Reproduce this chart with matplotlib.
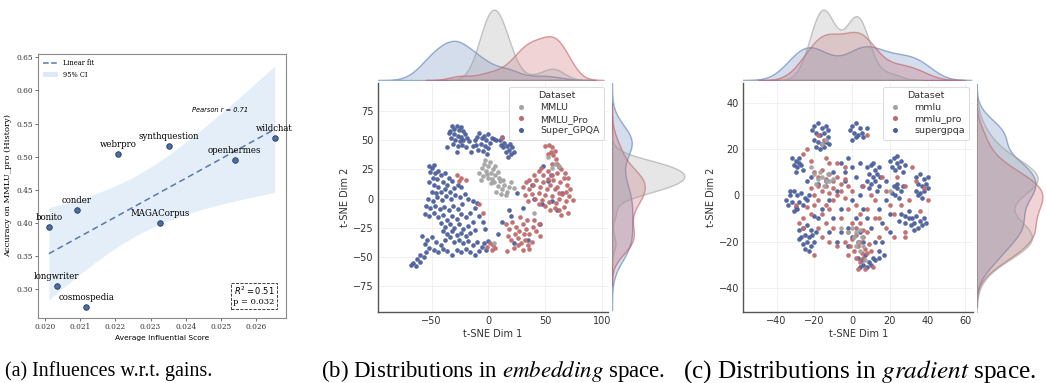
import numpy as np
import matplotlib
matplotlib.use("Agg")
import matplotlib.pyplot as plt
import seaborn as sns
from matplotlib.colors import to_rgba
from matplotlib.lines import Line2D
from matplotlib.patches import Patch

# ---------------- panel (a) data ----------------
names = ["bonito", "conder", "longwriter", "cosmospedia", "webrpro",
         "synthquestion", "MAGACorpus", "openhermes", "wildchat"]
infl_score = [0.02011, 0.02091, 0.02034, 0.02117, 0.02207,
              0.02352, 0.02327, 0.02539, 0.02653]
accuracy = [0.394, 0.420, 0.305, 0.274, 0.504, 0.517, 0.400, 0.495, 0.528]

# ---------------- panel (b) embedding t-SNE ----------------
emb_mmlu = [(-8, 22), (-6, 26), (-4, 30), (-2, 24), (0, 28), (2, 22), (4, 25), (-5, 19),
            (0, 18), (3, 17), (6, 20), (8, 23), (5, 14), (8, 11), (10, 15), (12, 8),
            (14, 12), (16, 6), (18, 10), (20, 14), (22, 9), (11, 4), (-3, 33), (1, 31),
            (-7, 16), (6, 28), (9, 18), (13, 16), (15, 3), (2, 13), (-1, 21), (7, 6),
            (52, 36), (58, 30), (62, 28), (40, -12), (5, -38), (56, 26)]
emb_pro = [(50, 45), (53, 46), (56, 44), (58, 41), (55, 40), (57, 37), (59, 34), (52, 38),
           (60, 30), (62, 27), (56, 30),
           (30, 10), (33, 14), (36, 8), (39, 12), (42, 16), (45, 10), (48, 14), (51, 8),
           (54, 12), (57, 16), (60, 10), (63, 14), (66, 18), (69, 12), (72, 8), (32, 3),
           (35, -2), (38, 4), (41, 0), (44, 5), (47, -1), (50, 3), (53, -3), (56, 2),
           (59, -4), (62, 0), (65, 4), (68, -2), (71, 2), (74, -1), (40, 20), (44, 24),
           (48, 20), (52, 24), (56, 20), (60, 22), (64, 25), (67, 22), (70, 18), (58, -8),
           (62, -10), (66, -7), (70, -12), (54, -10), (50, -6), (64, -14), (46, 26), (62, 5),
           (58, 8), (52, 17), (44, -5), (36, 16), (68, 6),
           (15, -22), (18, -26), (21, -20), (24, -24), (27, -28), (30, -22), (33, -26),
           (36, -30), (39, -24), (42, -28), (45, -32), (17, -32), (20, -35), (23, -30),
           (26, -34), (29, -38), (32, -35), (35, -40), (38, -37), (30, -44), (26, -40),
           (22, -42), (40, -18), (34, -18), (28, -16), (44, -22), (36, -43), (31, -30),
           (-28, 20), (-24, 18), (-20, 16), (-26, 15), (-8, -5), (-5, -12), (1, -38),
           (4, -40), (6, -42), (3, -44), (-1, -41), (12, 52), (16, -45)]
emb_gpqa = [(-34, 58), (-32, 62), (-30, 60), (-28, 62), (-26, 59), (-24, 61), (-22, 58),
            (-30, 55), (-27, 54), (-24, 53), (-21, 55), (-33, 52), (-29, 50), (-25, 49),
            (-22, 50), (-19, 52), (-35, 56), (-31, 47), (-27, 45), (-23, 46), (-20, 44),
            (-17, 49), (-36, 44), (-28, 40), (-14, 45), (-12, 50), (-10, 53), (-8, 56),
            (-6, 52), (-4, 54), (-2, 50), (0, 55), (-11, 46), (-7, 47), (-3, 45), (1, 48),
            (3, 52), (5, 51), (-9, 42), (-5, 41), (0, 43), (-1, 38), (7, 50), (-15, 40),
            (10, 50), (12, 53), (14, 48), (16, 45), (13, 44), (18, 42), (15, 40), (20, 38),
            (17, 36), (11, 46), (19, 47), (21, 44), (22, 40),
            (-52, 28), (-50, 26), (-48, 29), (-51, 23), (-47, 22), (-44, 24), (-49, 18),
            (-45, 17), (-42, 20), (-38, 22), (-35, 18), (-52, 14), (-48, 12), (-44, 10),
            (-40, 14), (-36, 12), (-32, 15), (-50, 6), (-46, 5), (-42, 6), (-38, 8),
            (-34, 6), (-30, 9), (-27, 12), (-24, 10), (-53, 0), (-49, -2), (-45, 1),
            (-41, -1), (-37, 2), (-33, 0), (-29, 3), (-25, 1), (-21, 4), (-18, 0),
            (-14, -2), (-10, -4), (-12, -8),
            (-55, -6), (-51, -8), (-47, -6), (-43, -9), (-39, -7), (-35, -10), (-31, -6),
            (-27, -9), (-23, -5), (-56, -13), (-52, -15), (-48, -12), (-44, -16), (-40, -14),
            (-36, -18), (-32, -15), (-28, -17), (-24, -13), (-20, -16), (-16, -12), (-8, -15),
            (-5, -20), (-3, -26),
            (-42, -21), (-38, -24), (-34, -22), (-30, -25), (-26, -22), (-22, -26), (-18, -23),
            (-14, -20), (-40, -28), (-36, -30), (-32, -28), (-28, -31), (-24, -29), (-20, -32),
            (-16, -29), (-12, -27), (-38, -35), (-34, -33), (-30, -37), (-26, -35), (-22, -38),
            (-18, -36), (-14, -40), (-10, -37), (-6, -41), (-2, -44), (-4, -38), (0, -36),
            (-58, -32), (-54, -35), (-50, -33), (-46, -37), (-42, -40), (-56, -39), (-52, -42),
            (-48, -44), (-44, -46), (-40, -43), (-36, -45), (-32, -48), (-28, -44), (-24, -46),
            (-20, -43), (-16, -46), (-12, -48), (-8, -45),
            (-60, -48), (-63, -52), (-66, -55), (-68, -57), (-64, -58), (-60, -54), (-57, -50),
            (-55, -46),
            (25, 5), (30, -8), (40, 0), (47, -5), (38, 12), (55, 20), (60, -10), (20, -15),
            (12, -20), (8, -30), (22, -38), (35, -35), (45, -22), (52, 15), (65, 5), (18, -10),
            (48, 28), (56, -2)]

# ---------------- panel (c) gradient t-SNE ----------------
grad_mmlu = [(-20, 9), (-18, 7), (-16, 8), (-14, 6), (-17, 10), (-15, 4), (-19, 5), (-13, 9),
             (0, -14), (2, -16), (4, -15), (1, -18), (3, -20), (5, -18), (6, -22), (2, -22),
             (-16, 22), (-14, 24), (-2, -16), (7, -28), (-22, 12), (-10, 7), (20, 2),
             (-6, -14), (4, -24), (-12, 6)]
grad_pro = [(-20, 10), (-18, 8), (-16, 11), (-14, 7), (-12, 9), (-10, 6), (-8, 8), (-6, 5),
            (-4, 7), (-18, 4), (-16, 2), (-14, 4), (-12, 1), (-10, 3), (-8, 0), (-6, 2),
            (-4, -1), (-20, 0), (-22, 3), (-24, -5), (-22, -8), (-20, -4), (-18, -2),
            (-16, -8), (-14, -4), (-12, -6), (-10, -2), (-26, -10), (-28, -12), (-18, -14),
            (-14, -12), (-10, -14), (-6, -10), (-2, 4), (0, 2), (2, -4), (4, -8), (-2, -6),
            (-22, 15), (-8, 14), (-12, 14), (-4, 12), (-24, 20), (-18, 26), (-15, 24),
            (-20, -26), (-16, -18),
            (0, -12), (2, -14), (4, -12), (6, -15), (-2, -16), (0, -19), (2, -17), (4, -20),
            (6, -18), (8, -16), (-1, -22), (1, -24), (3, -22), (5, -25), (7, -23), (9, -21),
            (2, -27), (4, -29), (6, -27), (8, -25), (10, -24), (3, -32), (7, -32), (11, -31),
            (-4, -20), (-2, -26),
            (8, -6), (12, -2), (14, -10), (18, -14), (22, -8), (26, -4), (28, -16), (18, 2),
            (24, 8), (30, -2), (34, 6), (38, 3), (40, -2), (32, 12), (22, -18), (16, 8),
            (20, -4), (14, -18), (10, 0), (6, 4), (36, -7), (12, -10), (28, 4), (-8, -22),
            (-12, -20), (-26, -14), (-30, -4), (8, 26), (-14, 16), (-26, 18), (28, -18)]
grad_gpqa = [(-20, 30), (-18, 31), (-16, 29), (-14, 30), (-19, 27), (-17, 26), (-15, 27),
             (-13, 25), (-20, 24), (-18, 23), (-16, 22), (-14, 23), (-12, 22), (-17, 20),
             (-15, 21), (-19, 21), (-13, 28), (-21, 28),
             (0, 30), (2, 31), (4, 29), (1, 27), (3, 26), (-1, 28), (5, 27), (2, 25), (0, 24),
             (6, 25), (8, 29),
             (-32, 16), (-30, 15), (-28, 16), (-31, 13), (-29, 12), (-27, 13), (-26, 11),
             (-30, 10), (-28, 14),
             (-35, -2), (-33, 0), (-31, 2), (-29, 0), (-27, 1), (-25, -1), (-34, -4), (-32, -3),
             (-30, -5), (-28, -3), (-26, -4), (-24, -2), (-31, -7), (-29, -6), (-33, 2), (-23, 0),
             (-28, -15), (-26, -14), (-24, -13), (-22, -15), (-27, -18), (-25, -17), (-23, -18),
             (-21, -17), (-26, -21), (-24, -20), (-22, -22), (-20, -20), (-25, -23), (-23, -24),
             (-28, -19), (-19, -16),
             (8, 12), (10, 13), (12, 11), (14, 12), (9, 9), (11, 8), (13, 9), (15, 8), (8, 6),
             (10, 5), (12, 6), (14, 4), (11, 14), (9, 3), (13, 2),
             (20, 15), (22, 16), (24, 14), (26, 15), (21, 12), (23, 11), (25, 12), (27, 10),
             (24, 17), (28, 13),
             (22, 4), (24, 3), (26, 2), (23, 0), (25, -1), (21, 1), (27, 4), (24, 5),
             (34, 8), (36, 9), (38, 7), (40, 8), (35, 5), (37, 4), (39, 5), (34, 2), (36, 1),
             (38, 2), (40, 3), (37, -1), (35, 0),
             (26, -8), (28, -9), (30, -7), (32, -10), (34, -9), (36, -11), (38, -10), (28, -12),
             (31, -13), (33, -12), (35, -14), (37, -13), (30, -10), (25, -11), (39, -12),
             (33, -15),
             (3, -27), (5, -28), (7, -26), (9, -29), (11, -27), (4, -31), (6, -30), (8, -31),
             (10, -30), (12, -28), (14, -27),
             (-22, 8), (-18, 5), (-10, 10), (-6, 14), (-2, 16), (0, 12), (2, 8), (4, 14),
             (-4, 6), (-8, 2), (-12, -2), (-16, -6), (-20, -9), (-10, -10), (-6, -6), (0, -2),
             (4, 0), (6, -6), (2, -10), (-2, -14), (0, -18), (4, -16), (6, -20), (10, -14),
             (14, -6), (16, -12), (18, -2), (20, -8), (-14, 6), (-6, -16), (-12, -16),
             (16, -20), (12, -20), (14, -24), (17, -26), (-4, 10), (5, 4), (-24, 6), (-8, -20),
             (20, -16), (18, 6), (-18, -10), (8, -10), (-2, -22), (3, -20)]

# scatter / marginal colours: gray, red, blue
pt_colors = ["#a3a3a3", "#be6b6d", "#4b5f9b"]
kde_colors = ["#999999", "#C44E52", "#4C72B0"]

fig = plt.figure(figsize=(10.46, 3.83), dpi=100)

# ======================= panel (a) =======================
ax = fig.add_axes([0.0363, 0.170, 0.2371, 0.689])
xa = np.array(infl_score)
ya = np.array(accuracy)
n = len(xa)
slope, icpt = np.polyfit(xa, ya, 1)
xs = np.linspace(xa.min(), xa.max(), 100)
fit = slope * xs + icpt
resid = ya - (slope * xa + icpt)
s = np.sqrt(np.sum(resid ** 2) / (n - 2))
sxx = np.sum((xa - xa.mean()) ** 2)
se = s * np.sqrt(1 / n + (xs - xa.mean()) ** 2 / sxx)
ax.fill_between(xs, fit - 1.96 * se, fit + 1.96 * se, color="#dce9f8", alpha=0.75, lw=0)
ax.plot(xs, fit, ls="--", color="#5a78ab", lw=1.1, dashes=(4, 2.5))
ax.scatter(xa, ya, s=16, color="#4c6ea3", edgecolor="#26385a", lw=0.6, zorder=3)
for nm, x, y in zip(names, xa, ya):
    ax.annotate(nm, (x, y), xytext=(0, 3.5), textcoords="offset points",
                ha="center", va="bottom", fontsize=6.2, family="DejaVu Serif")
ax.set_xlim(0.0198, 0.02685)
ax.set_ylim(0.257, 0.655)
ax.set_xticks([0.020, 0.021, 0.022, 0.023, 0.024, 0.025, 0.026])
ax.set_xticklabels(["0.020", "0.021", "0.022", "0.023", "0.024", "0.025", "0.026"])
ax.set_yticks([0.30, 0.35, 0.40, 0.45, 0.50, 0.55, 0.60, 0.65])
ax.set_yticklabels(["0.30", "0.35", "0.40", "0.45", "0.50", "0.55", "0.60", "0.65"])
for lab in ax.get_xticklabels() + ax.get_yticklabels():
    lab.set_family("DejaVu Serif")
ax.tick_params(labelsize=5.3, length=2, width=0.5, pad=1.5, colors="#333333")
for sp in ax.spines.values():
    sp.set_color("#8a8a8a")
    sp.set_linewidth(0.8)
ax.set_xlabel("Average Influential Score", fontsize=5.4, labelpad=3)
ax.set_ylabel("Accuracy on MMLU_pro (History)", fontsize=6, family="DejaVu Serif", labelpad=3)
ax.text(0.02497, 0.571, "Pearson r = 0.71", fontsize=4.8, style="italic",
        ha="center", va="center")
ax.text(0.955, 0.045, "$R^2 = 0.51$\np = 0.032", transform=ax.transAxes, ha="right",
        va="bottom", fontsize=6, family="DejaVu Serif", linespacing=1.1,
        bbox=dict(boxstyle="square,pad=0.3", fc="white", ec="#222222", ls="--", lw=0.6))
handles = [Line2D([0], [0], ls="--", color="#5a78ab", lw=1.1),
           Patch(facecolor="#dce9f8")]
leg = ax.legend(handles, ["Linear fit", "95% CI"], loc="upper left", frameon=False,
                prop={"family": "DejaVu Serif", "size": 4.8}, handlelength=2.2,
                borderaxespad=0.4, labelspacing=0.5)


# ======================= panels (b) and (c) =======================
def joint_panel(left, width, rm_left, rm_width, groups, labels, xlim, ylim,
                xticks, yticks):
    main = fig.add_axes([left, 0.1854, width, 0.598])
    top = fig.add_axes([left, 0.791, width, 0.193], sharex=main)
    right = fig.add_axes([rm_left, 0.1854, rm_width, 0.598], sharey=main)
    main.grid(True, color="#eeeeee", lw=0.6)
    main.set_axisbelow(True)
    for i in [2, 1, 0]:
        pts = np.array(groups[i], dtype=float)
        main.scatter(pts[:, 0], pts[:, 1], s=11, color=pt_colors[i], lw=0, alpha=0.95)
        sns.kdeplot(x=pts[:, 0], ax=top, fill=True, color=kde_colors[i], alpha=0.24,
                    edgecolor=to_rgba(kde_colors[i], 0.55), linewidth=1)
        sns.kdeplot(y=pts[:, 1], ax=right, fill=True, color=kde_colors[i], alpha=0.24,
                    edgecolor=to_rgba(kde_colors[i], 0.55), linewidth=1)
    main.set_xlim(*xlim)
    main.set_ylim(*ylim)
    main.set_xticks(xticks)
    main.set_yticks(yticks)
    main.set_xticklabels(["\u2212%d" % -t if t < 0 else "%d" % t for t in xticks])
    main.set_yticklabels(["\u2212%d" % -t if t < 0 else "%d" % t for t in yticks])
    main.tick_params(length=0, labelsize=7, colors="#333333", pad=3)
    for side in ["top", "right"]:
        main.spines[side].set_visible(False)
    for side in ["left", "bottom"]:
        main.spines[side].set_color("#555555")
        main.spines[side].set_linewidth(1.0)
    main.set_xlabel("t-SNE Dim 1", fontsize=7, color="#333333", labelpad=2)
    main.set_ylabel("t-SNE Dim 2", fontsize=7, color="#333333", labelpad=2)
    top.set_axis_off()
    right.set_axis_off()
    top.set_ylim(bottom=0)
    right.set_xlim(left=0)
    hs = [Line2D([0], [0], marker="o", ls="none", ms=2.6, color=pt_colors[i]) for i in range(3)]
    lg = main.legend(hs, labels, title="Dataset", loc="upper right", fontsize=6.8,
                     title_fontsize=6.8, handletextpad=1.3, handlelength=1.6, borderpad=0.45,
                     labelspacing=0.3, framealpha=1, edgecolor="#dddddd",
                     borderaxespad=0.4)
    lg.get_frame().set_linewidth(0.8)
    for t in lg.get_texts() + [lg.get_title()]:
        t.set_color("#333333")
    return main


joint_panel(0.3614, 0.2199, 0.585, 0.0727,
            [emb_mmlu, emb_pro, emb_gpqa], ["MMLU", "MMLU_Pro", "Super_GPQA"],
            (-97, 105), (-97, 99), [-50, 0, 50, 100], [-75, -50, -25, 0, 25, 50, 75])
joint_panel(0.7106, 0.2196, 0.9337, 0.066,
            [grad_mmlu, grad_pro, grad_gpqa], ["mmlu", "mmlu_pro", "supergpqa"],
            (-57.7, 64.1), (-50.4, 48.5), [-40, -20, 0, 20, 40, 60], [-40, -20, 0, 20, 40])

# ======================= captions =======================
cap = dict(family="Liberation Serif", math_fontfamily="stix", ha="center", va="center")
fig.text(0.104, 0.031, "(a) Influences w.r.t. gains.", fontsize=14.4, **cap)
fig.text(0.4713, 0.031, r"(b) Distributions in $\mathit{embedding}$ space.", fontsize=16.5, **cap)
fig.text(0.8222, 0.031, r"(c) Distributions in $\mathit{gradient}$ space.", fontsize=18.2, **cap)

fig.savefig("out.png", dpi=100)
